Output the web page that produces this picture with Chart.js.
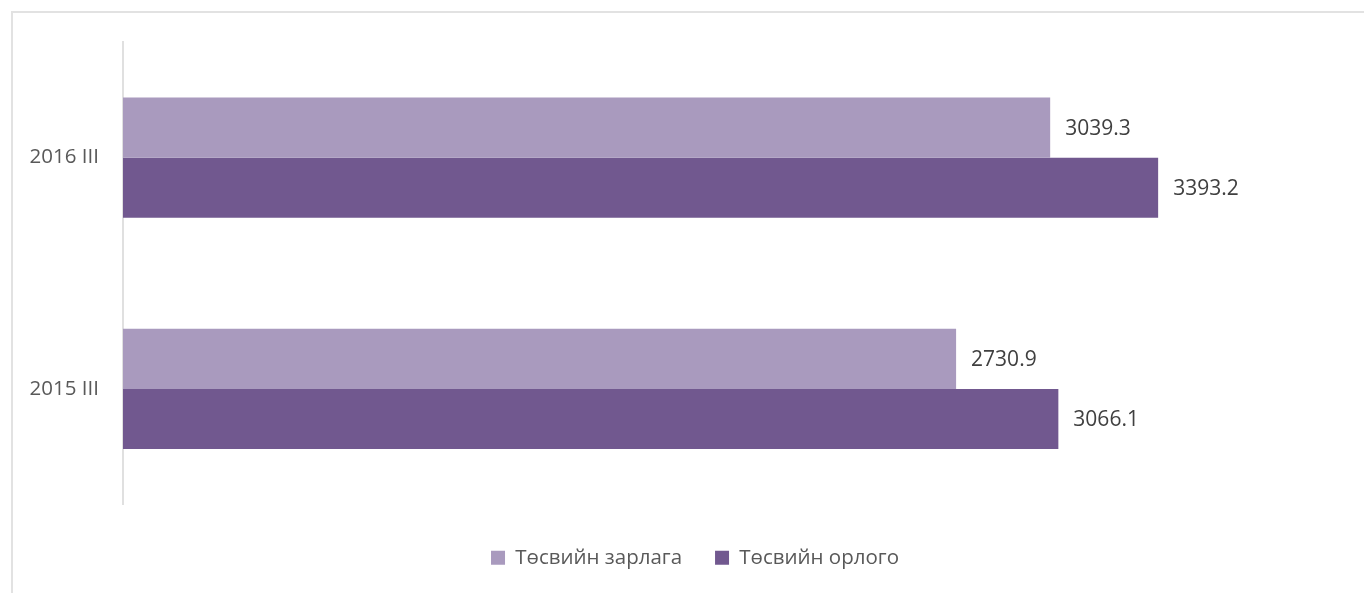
<!DOCTYPE html>
<html>
<head>
<meta charset="utf-8">
<script src="https://cdn.jsdelivr.net/npm/chart.js@4.4.0/dist/chart.umd.min.js"></script>
<style>
  html, body { margin: 0; padding: 0; background: #fff; overflow: hidden; }
  .frame { position: absolute; left: 11px; top: 11px; width: 1400px; height: 700px;
           border: 2px solid #e2e2e2; box-sizing: border-box; }
  .chartBox { position: absolute; left: 0; top: 0; width: 1364px; height: 593px; }
</style>
</head>
<body>
<div class="frame"></div>
<div class="chartBox"><canvas id="myChart"></canvas></div>
<script>
// data
const categories = ['2016 III', '2015 III'];
const seriesNames = ['Төсвийн зарлага', 'Төсвийн орлого'];
const expenditure = [3039.3, 2730.9];
const revenue = [3393.2, 3066.1];

const lightPurple = '#A99ABE';
const darkPurple = '#71588F';
const fontFamily = "'Open Sans', 'Noto Sans', sans-serif";

// value labels to the right of each bar
const barLabels = {
    id: 'barLabels',
    afterDatasetsDraw(chart) {
        const { ctx } = chart;
        ctx.save();
        ctx.font = '21px ' + fontFamily;
        ctx.fillStyle = '#404040';
        ctx.textAlign = 'left';
        ctx.textBaseline = 'middle';
        chart.data.datasets.forEach((ds, i) => {
            chart.getDatasetMeta(i).data.forEach((bar, j) => {
                ctx.fillText(ds.data[j].toFixed(1), bar.x + 15, bar.y + 1);
            });
        });
        ctx.restore();
    }
};

const chartData = {
    labels: categories,
    datasets: [
        { label: seriesNames[0], data: expenditure, backgroundColor: lightPurple },
        { label: seriesNames[1], data: revenue, backgroundColor: darkPurple }
    ]
};

const config = {
    type: 'bar',
    data: chartData,
    options: {
        indexAxis: 'y',
        responsive: true,
        maintainAspectRatio: false,
        animation: false,
        datasets: {
            bar: { categoryPercentage: 0.52, barPercentage: 1.0, borderWidth: 0 }
        },
        layout: { padding: { left: 26, right: 0, top: 42, bottom: 15 } },
        scales: {
            x: {
                min: 0,
                max: 4068,
                grid: { display: false },
                border: { display: false },
                ticks: { display: false },
                afterFit(scale) { scale.height = 10; }
            },
            y: {
                grid: { display: false, drawTicks: false },
                border: { display: true, color: '#e0e0e0', width: 2 },
                ticks: { color: '#595959', font: { family: fontFamily, size: 20.5 }, padding: 24 },
                afterFit(scale) { scale.width = 97; }
            }
        },
        plugins: {
            tooltip: { enabled: false },
            legend: {
                position: 'bottom',
                labels: {
                    boxWidth: 14,
                    boxHeight: 14,
                    padding: 33,
                    color: '#595959',
                    font: { family: fontFamily, size: 20.5 }
                }
            }
        }
    },
    plugins: [barLabels]
};

new Chart(document.getElementById('myChart'), config);
</script>
</body>
</html>
